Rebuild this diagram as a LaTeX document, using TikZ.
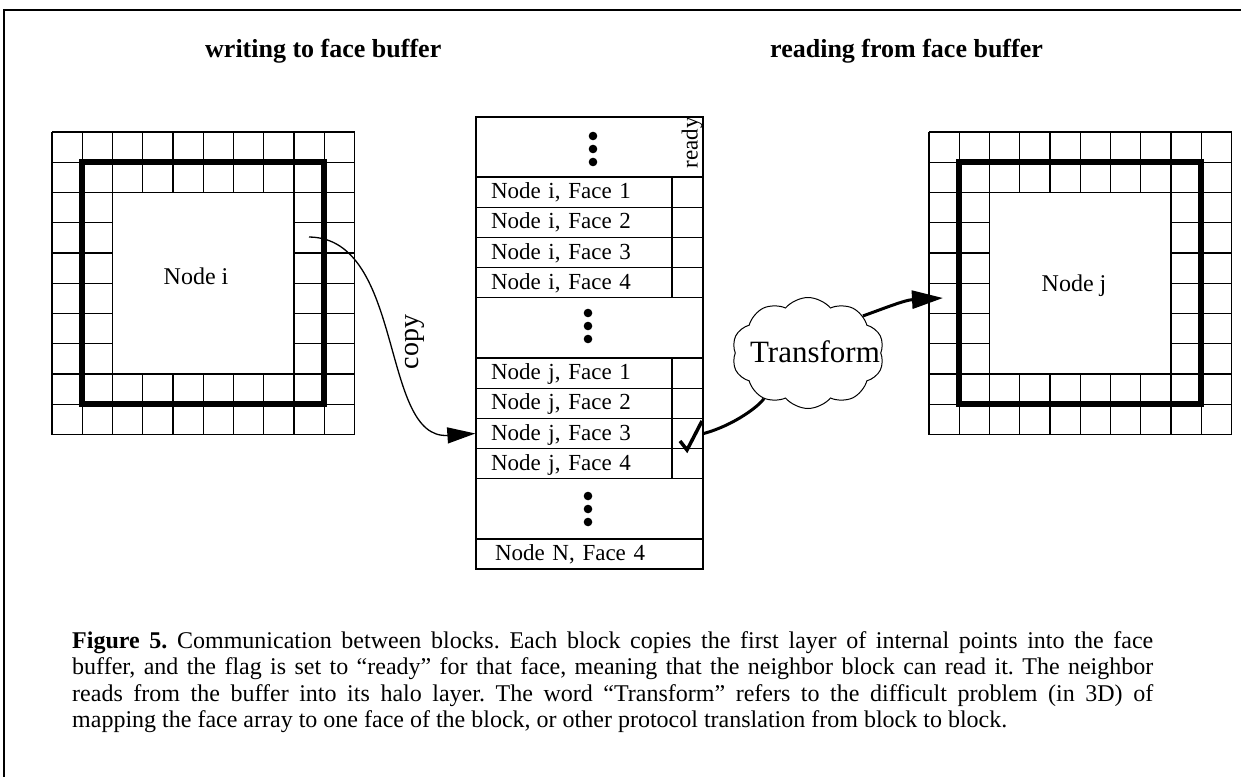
\documentclass[tikz,border=0pt]{standalone}
\usepackage{fontspec}
\setmainfont{Liberation Serif}
\usetikzlibrary{arrows.meta,shapes.symbols}
\frenchspacing
\tikzset{
  gridline/.style={line width=1.3pt},
  thickline/.style={line width=6pt},
  rowbox/.style={draw, line width=1.3pt, minimum height=30.2pt, text width=197pt,
    inner xsep=15pt, inner ysep=0pt, text height=17pt, text depth=4pt, align=left,
    font=\fontsize{23}{26}\selectfont},
  dotmark/.style={fill=black},
  meshgrid/.pic={
    \foreach \k in {0,1,2,8,9,10}{
      \draw[gridline] (0,\k*30.25) -- (302.5,\k*30.25);
      \draw[gridline] (\k*30.25,0) -- (\k*30.25,302.5);
    }
    \foreach \k in {3,...,7}{
      \draw[gridline] (0,\k*30.25) -- (60.5,\k*30.25);
      \draw[gridline] (242,\k*30.25) -- (302.5,\k*30.25);
      \draw[gridline] (\k*30.25,0) -- (\k*30.25,60.5);
      \draw[gridline] (\k*30.25,242) -- (\k*30.25,302.5);
    }
    \draw[thickline] (30.25,30.25) rectangle (272.25,272.25);
  },
  bigarrow/.style={line width=3pt, -{Triangle[length=31pt,width=18pt]}},
  thinarrow/.style={line width=1.3pt, -{Triangle[length=28pt,width=16pt]}}
}
\begin{document}
\begin{tikzpicture}[x=1pt,y=-1pt]
\useasboundingbox (0,0) rectangle (1241,776);
% frame
\draw[line width=1.5pt] (4,790) -- (4,10) -- (1250,10);
% headings
\node[anchor=base west, inner sep=0, font=\bfseries\fontsize{26}{30}\selectfont] (hw) at (205,58) {writing to face buffer};
\node[anchor=base west, inner sep=0, font=\bfseries\fontsize{26}{30}\selectfont] (hr) at (770,58) {reading from face buffer};
% grids
\pic at (52,132) {meshgrid};
\pic at (929,132) {meshgrid};
\node[anchor=base, inner sep=0, font=\fontsize{24}{26}\selectfont] (ni) at (196,284) {Node i};
\node[anchor=base, inner sep=0, font=\fontsize{24}{26}\selectfont] (nj) at (1074,291) {Node j};
% buffer column
\draw[line width=1.3pt] (476,117) rectangle (703,569);
\node[rowbox] (ri1) at (589.5,192.1) {Node i, Face 1};
\node[rowbox] (ri2) at (589.5,222.3) {Node i, Face 2};
\node[rowbox] (ri3) at (589.5,252.5) {Node i, Face 3};
\node[rowbox] (ri4) at (589.5,282.7) {Node i, Face 4};
\node[rowbox] (rj1) at (589.5,373.1) {Node j, Face 1};
\node[rowbox] (rj2) at (589.5,403.3) {Node j, Face 2};
\node[rowbox] (rj3) at (589.5,433.5) {Node j, Face 3};
\node[rowbox] (rj4) at (589.5,463.7) {Node j, Face 4};
\node[rowbox, inner xsep=19pt, text width=189pt] (rn) at (589.5,554) {Node N, Face 4};
\draw[line width=1.3pt] (672,177) -- (672,297.8);
\draw[line width=1.3pt] (672,358) -- (672,478.8);
\node[rotate=90, inner sep=0, font=\fontsize{23}{25}\selectfont] (rdy) at (692,143) {ready};
% dots
\foreach \y in {136,149,162} \fill[dotmark] (593,\y) circle[radius=4.3pt];
\foreach \y in {313,326,339} \fill[dotmark] (588,\y) circle[radius=4.3pt];
\foreach \y in {496,509,522} \fill[dotmark] (588,\y) circle[radius=4.3pt];
% check mark
\draw[line width=3.5pt] (680,441) -- (687,450) -- (702,421);
% copy arrow
\coordinate (iout) at (309,237);
\draw[thinarrow] (iout) .. controls (405,238) and (380,440) .. (rj3.west);
\node[rotate=90, inner sep=0, font=\fontsize{28}{30}\selectfont] (cp) at (415,342) {copy};
% cloud
\node[cloud, draw, line width=1pt, cloud puffs=10, cloud puff arc=100, cloud ignores aspect, minimum width=152pt, minimum height=111pt, inner sep=0] (cl) at (808,353) {};
\node[inner sep=0, font=\fontsize{31}{33}\selectfont] (tr) at (815,352) {Transform};
\coordinate (jin) at (943,298);
\draw[bigarrow, -] (rj3.east) .. controls (735,425) and (760,405) .. (cl.226);
\draw[bigarrow] (cl.34) .. controls (885,308) and (905,300) .. (jin);
% caption
\node[anchor=north west, inner sep=0, text width=1081pt, align=justify, font=\fontsize{24}{26.5}\selectfont] (cap) at (72,631) {\noindent\textbf{Figure 5.} Communication between blocks. Each block copies the first layer of internal points into the face\linebreak buffer, and the flag is set to “ready” for that face, meaning that the neighbor block can read it. The neighbor\linebreak reads from the buffer into its halo layer. The word “Transform” refers to the difficult problem (in 3D) of\linebreak mapping the face array to one face of the block, or other protocol translation from block to block.};
\end{tikzpicture}
\end{document}
